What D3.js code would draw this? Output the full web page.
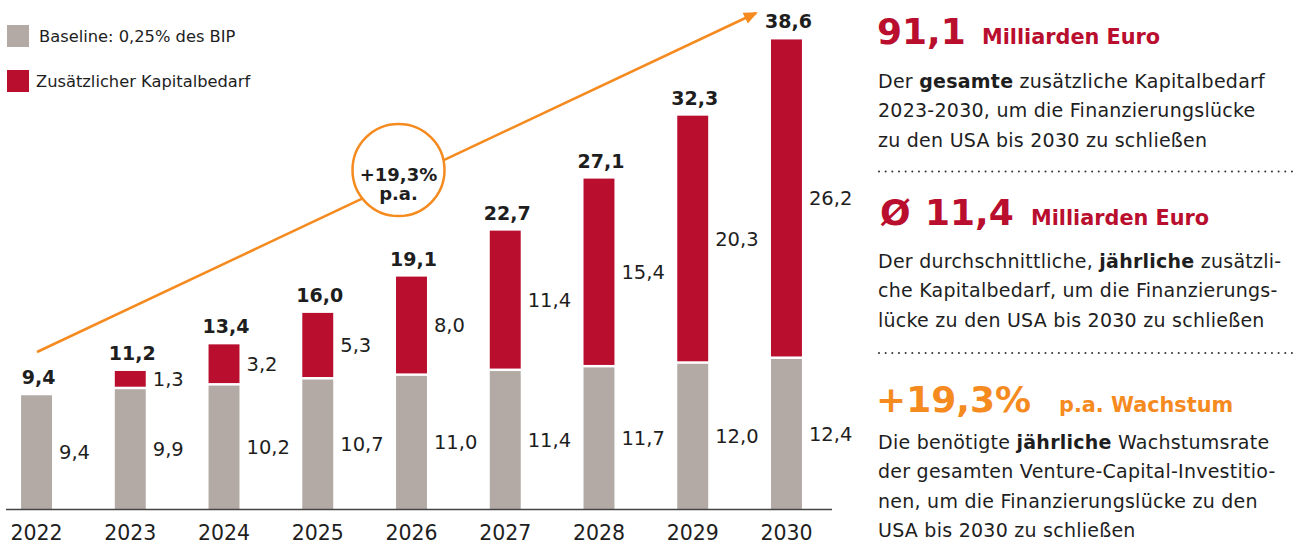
<!DOCTYPE html>
<html>
<head>
<meta charset="utf-8">
<script src="https://cdn.jsdelivr.net/npm/d3@7"></script>
<style>
  body { margin: 0; background: #fff; }
  svg { display: block; font-family: "DejaVu Sans", sans-serif; }
</style>
</head>
<body>
<svg id="chart" width="1299" height="544"></svg>
<script>
const years = ['2022', '2023', '2024', '2025', '2026', '2027', '2028', '2029', '2030'];
const baseline = [9.4, 9.9, 10.2, 10.7, 11.0, 11.4, 11.7, 12.0, 12.4];
const additional = [0, 1.3, 3.2, 5.3, 8.0, 11.4, 15.4, 20.3, 26.2];
const totals = [9.4, 11.2, 13.4, 16.0, 19.1, 22.7, 27.1, 32.3, 38.6];
const legendLabels = ['Baseline: 0,25% des BIP', 'Zusätzlicher Kapitalbedarf'];
const growthLabel = ['+19,3%', 'p.a.'];

const GREY = '#b3aaa5';
const RED = '#b90e2e';
const ORANGE = '#f58a1f';
const INK = '#1e1e1e';

const fmt = v => d3.format('.1f')(v).replace('.', ',');

const svg = d3.select('#chart');

const x = d3.scaleBand().domain(years).range([7, 816]).paddingInner(0.67).paddingOuter(0.15);
const y = d3.scaleLinear().domain([0, 40]).range([509, 25]);
const gap = 2.5;

const rows = years.map((yr, i) => ({ yr, base: baseline[i], add: additional[i], total: totals[i] }));

// baseline bars
svg.append('g').selectAll('rect').data(rows).join('rect')
  .attr('x', d => x(d.yr))
  .attr('width', x.bandwidth())
  .attr('y', d => y(d.base))
  .attr('height', d => y(0) - y(d.base))
  .attr('fill', GREY);

// additional bars
const addRows = rows.filter(d => d.add > 0);
svg.append('g').selectAll('rect').data(addRows).join('rect')
  .attr('x', d => x(d.yr))
  .attr('width', x.bandwidth())
  .attr('y', d => y(d.base + d.add) - gap)
  .attr('height', d => y(d.base) - y(d.base + d.add))
  .attr('fill', RED);

// segment labels
svg.append('g').selectAll('text').data(rows).join('text')
  .attr('x', d => x(d.yr) + x.bandwidth() + 7)
  .attr('y', d => (y(0) + y(d.base)) / 2)
  .attr('dy', '0.36em')
  .attr('font-size', 19.5)
  .attr('fill', INK)
  .text(d => fmt(d.base));

svg.append('g').selectAll('text').data(addRows).join('text')
  .attr('x', d => x(d.yr) + x.bandwidth() + 7)
  .attr('y', d => (y(d.base) + y(d.base + d.add)) / 2 - gap)
  .attr('dy', '0.36em')
  .attr('font-size', 19.5)
  .attr('fill', INK)
  .text(d => fmt(d.add));

// totals
svg.append('g').selectAll('text').data(rows).join('text')
  .attr('x', d => x(d.yr) + x.bandwidth() / 2 + 2)
  .attr('y', d => y(d.base + d.add) - (d.add > 0 ? gap : 0) - 11)
  .attr('text-anchor', 'middle')
  .attr('font-size', 19)
  .attr('font-weight', 700)
  .attr('fill', INK)
  .text(d => fmt(d.total));

// x axis
svg.append('line')
  .attr('x1', 6).attr('x2', 832)
  .attr('y1', y(0) + 0.5).attr('y2', y(0) + 0.5)
  .attr('stroke', '#444').attr('stroke-width', 1.5);

const xAxis = svg.append('g')
  .attr('transform', `translate(0,${y(0)})`)
  .call(d3.axisBottom(x).tickSize(0).tickPadding(0));
xAxis.select('.domain').remove();
xAxis.selectAll('text')
  .attr('y', 31)
  .attr('dy', 0)
  .attr('font-family', '"DejaVu Sans", sans-serif')
  .attr('font-size', 20.5)
  .attr('fill', INK);

// legend
const legend = svg.append('g');
[GREY, RED].forEach((c, i) => {
  legend.append('rect')
    .attr('x', 7).attr('y', 25 + i * 45)
    .attr('width', 22).attr('height', 22)
    .attr('fill', c);
  legend.append('text')
    .attr('x', i === 0 ? 39 : 36).attr('y', 36 + i * 45)
    .attr('dy', '0.36em')
    .attr('font-size', 16.3)
    .attr('fill', INK)
    .text(legendLabels[i]);
});

// growth arrow
svg.append('defs').append('marker')
  .attr('id', 'arrow')
  .attr('viewBox', '0 -6 14 12')
  .attr('refX', 12).attr('refY', 0)
  .attr('markerWidth', 14).attr('markerHeight', 12)
  .attr('markerUnits', 'userSpaceOnUse')
  .attr('orient', 'auto')
  .append('path')
  .attr('d', 'M0,-6L14,0L0,6Z')
  .attr('fill', ORANGE);

svg.append('line')
  .attr('x1', 37).attr('y1', 352)
  .attr('x2', 756).attr('y2', 13)
  .attr('stroke', ORANGE).attr('stroke-width', 2.5)
  .attr('marker-end', 'url(#arrow)');

svg.append('circle')
  .attr('cx', 398.5).attr('cy', 170).attr('r', 46)
  .attr('fill', '#fff')
  .attr('stroke', ORANGE).attr('stroke-width', 2.5);

const growth = svg.append('text')
  .attr('text-anchor', 'middle')
  .attr('font-size', 18).attr('font-weight', 700).attr('fill', INK);
growthLabel.forEach((s, i) => {
  growth.append('tspan').attr('x', 398.5).attr('y', 181 + i * 19).text(s);
});

// right panel
const panel = svg.append('g');

function headline(yPos, color, bigParts, small, smallX) {
  bigParts.forEach(([s, bx]) => {
    panel.append('text')
      .attr('x', bx).attr('y', yPos)
      .attr('font-size', 36).attr('font-weight', 700).attr('fill', color)
      .text(s);
  });
  panel.append('text')
    .attr('x', smallX).attr('y', yPos)
    .attr('font-size', 20.8).attr('font-weight', 700).attr('fill', color)
    .text(small);
}

function body(lines, y0) {
  lines.forEach((parts, i) => {
    const t = panel.append('text')
      .attr('x', 878).attr('y', y0 + i * 29.3)
      .attr('font-size', 19).attr('letter-spacing', 0.25).attr('fill', INK);
    parts.forEach(([s, bold]) => {
      t.append('tspan').attr('font-weight', bold ? 700 : 400).text(s);
    });
  });
}

function dots(yPos) {
  panel.append('line')
    .attr('x1', 879).attr('x2', 1293)
    .attr('y1', yPos).attr('y2', yPos)
    .attr('stroke', '#333').attr('stroke-width', 2)
    .attr('stroke-linecap', 'round')
    .attr('stroke-dasharray', '0.01 6.65');
}

headline(44, RED, [['91,1', 877]], 'Milliarden Euro', 982);
body([
  [['Der '], ['gesamte', true], [' zusätzliche Kapitalbedarf']],
  [['2023-2030, um die Finanzierungslücke']],
  [['zu den USA bis 2030 zu schließen']]
], 88);
dots(171.5);

headline(225, RED, [['Ø', 880], ['11,4', 925]], 'Milliarden Euro', 1031);
body([
  [['Der durchschnittliche, '], ['jährliche', true], [' zusätzli-']],
  [['che Kapitalbedarf, um die Finanzierungs-']],
  [['lücke zu den USA bis 2030 zu schließen']]
], 268);
dots(353);

headline(412, ORANGE, [['+19,3%', 876]], 'p.a. Wachstum', 1059);
body([
  [['Die benötigte '], ['jährliche', true], [' Wachstumsrate']],
  [['der gesamten Venture-Capital-Investitio-']],
  [['nen, um die Finanzierungslücke zu den']],
  [['USA bis 2030 zu schließen']]
], 449);
</script>
</body>
</html>
